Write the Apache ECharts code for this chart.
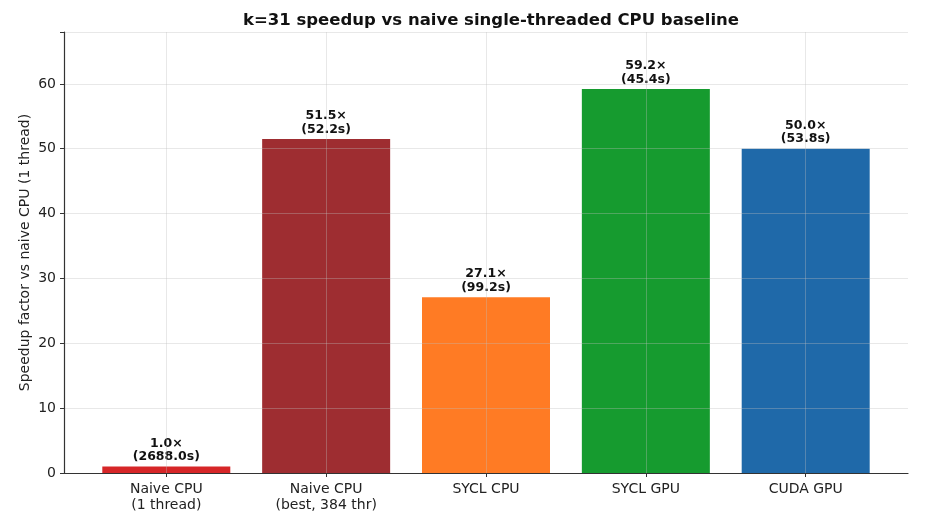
<!DOCTYPE html>
<html>
<head>
<meta charset="utf-8">
<script src="https://cdn.jsdelivr.net/npm/echarts@6/dist/echarts.min.js"></script>
<style>
  html, body { margin: 0; padding: 0; background: #fff; }
  #main { width: 946px; height: 526px; }
</style>
</head>
<body>
<div id="main"></div>
<script>
// data
var categories = ["Naive CPU\n(1 thread)", "Naive CPU\n(best, 384 thr)", "SYCL CPU", "SYCL GPU", "CUDA GPU"];
var speedups = [1.0, 51.5, 27.1, 59.2, 50.0];
var seconds = [2688.0, 52.2, 99.2, 45.4, 53.8];
var barColors = ["#d62628", "#9e2d31", "#ff7b24", "#169b2f", "#1f69a9"];
var yTicks = [0, 10, 20, 30, 40, 50, 60];

var font = "DejaVu Sans";
var catIdx = categories.map(function (c, i) { return i; });

var option = {
  animation: false,
  backgroundColor: "#fff",
  title: {
    text: "k=31 speedup vs naive single-threaded CPU baseline",
    left: 486,
    textAlign: "center",
    top: 7,
    textStyle: { fontFamily: font, fontSize: 16.5, fontWeight: "bold", color: "#111" }
  },
  grid: { left: 64, right: 38, top: 32, bottom: 53 },
  xAxis: {
    type: "value",
    min: -0.64,
    max: 4.64,
    z: 3,
    axisLine: { show: true, onZero: false, lineStyle: { color: "#333", width: 1.2 } },
    axisTick: { show: true, customValues: catIdx, length: 4, lineStyle: { color: "#333" } },
    axisLabel: {
      customValues: catIdx,
      fontFamily: font, fontSize: 14, color: "#222", lineHeight: 16, margin: 8,
      formatter: function (v) { return categories[Math.round(v)]; }
    },
    splitLine: { show: true, lineStyle: { color: "rgba(190,190,190,0.35)", width: 1 } }
  },
  yAxis: {
    type: "value",
    min: 0,
    max: 68,
    interval: 10,
    z: 3,
    name: "Speedup factor vs naive CPU (1 thread)",
    nameLocation: "middle",
    nameGap: 32,
    nameMoveOverlap: false,
    nameTextStyle: { fontFamily: font, fontSize: 14, color: "#222" },
    axisLine: { show: true, onZero: false, lineStyle: { color: "#333", width: 1.2 } },
    axisTick: { show: true, length: 4, lineStyle: { color: "#333" } },
    axisLabel: {
      fontFamily: font, fontSize: 14, color: "#222", margin: 8,
      formatter: function (v) { return yTicks.indexOf(v) >= 0 ? String(v) : ""; }
    },
    splitLine: { show: true, lineStyle: { color: "rgba(190,190,190,0.35)", width: 1 } }
  },
  series: [{
    type: "bar",
    barWidth: 128,
    data: speedups.map(function (v, i) {
      return { value: [i, v], itemStyle: { color: barColors[i] } };
    }),
    label: {
      show: true,
      position: "top",
      distance: 3,
      fontFamily: font,
      fontSize: 12.5,
      fontWeight: "bold",
      color: "#111",
      lineHeight: 13.5,
      formatter: function (p) {
        return speedups[p.dataIndex].toFixed(1) + "×\n(" + seconds[p.dataIndex].toFixed(1) + "s)";
      }
    }
  }]
};

var chart = echarts.init(document.getElementById("main"), null, { renderer: "canvas" });
chart.setOption(option);
</script>
</body>
</html>
